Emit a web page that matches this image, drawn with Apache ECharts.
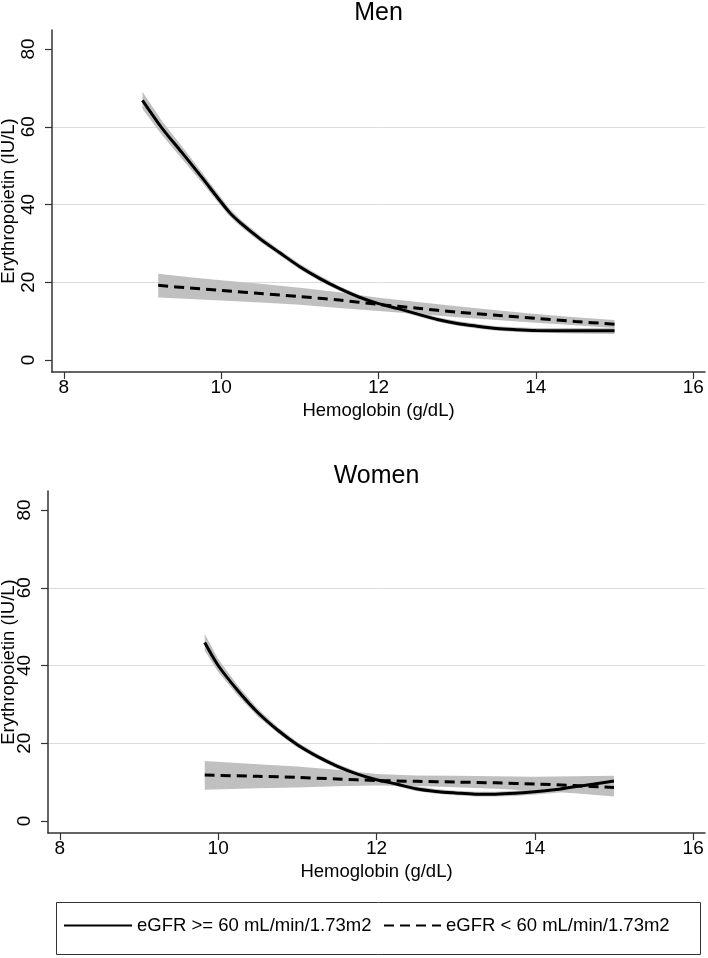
<!DOCTYPE html>
<html><head><meta charset="utf-8">
<script src="https://cdn.jsdelivr.net/npm/echarts@6/dist/echarts.min.js"></script>
<style>html,body{margin:0;padding:0;background:#fff}#c{width:708px;height:958px}</style>
</head><body><div id="c"></div>
<script>
// ---------------- data ----------------
const nameHigh = 'eGFR >= 60 mL/min/1.73m2';
const nameLow = 'eGFR < 60 mL/min/1.73m2';
const panelTitles = ['Men', 'Women'];
const xAxisName = 'Hemoglobin (g/dL)';
const yAxisName = 'Erythropoietin (IU/L)';
const xTicks = [8, 10, 12, 14, 16];
const yTicks = [0, 20, 40, 60, 80];

// Men, eGFR >= 60
const menHighHb  = [9.0, 9.25, 9.5, 9.75, 10.1, 10.25, 10.5, 10.75, 11.0, 11.25, 11.5, 11.75, 12.0, 12.25, 12.5, 12.75, 13.0, 13.25, 13.5, 13.75, 14.0, 14.5, 15.0];
const menHighEpo = [66.8, 59.6, 53.4, 47.1, 38.1, 35.2, 31.1, 27.5, 24.0, 21.0, 18.4, 16.2, 14.5, 13.2, 11.8, 10.4, 9.4, 8.7, 8.1, 7.8, 7.6, 7.5, 7.5];
const menHighLo  = [64.6, 57.8, 51.8, 45.8, 37.1, 34.3, 30.3, 26.8, 23.3, 20.3, 17.8, 15.6, 13.9, 12.6, 11.2, 9.8, 8.8, 8.1, 7.5, 7.2, 7.0, 6.8, 6.7];
const menHighUp  = [69.0, 61.4, 55.0, 48.4, 39.1, 36.1, 31.9, 28.2, 24.7, 21.7, 19.0, 16.8, 15.1, 13.8, 12.4, 11.0, 10.0, 9.3, 8.7, 8.4, 8.2, 8.2, 8.3];

// Men, eGFR < 60
const menLowHb  = [9.2, 9.6, 10.0, 10.5, 11.0, 11.5, 12.0, 12.5, 13.0, 13.5, 14.0, 14.5, 15.0];
const menLowEpo = [19.2, 18.5, 17.9, 17.1, 16.3, 15.4, 14.3, 13.3, 12.3, 11.5, 10.7, 9.9, 9.2];
const menLowLo  = [16.1, 15.7, 15.3, 14.8, 14.2, 13.4, 12.6, 11.8, 11.0, 10.3, 9.6, 8.9, 8.2];
const menLowUp  = [22.2, 21.3, 20.5, 19.6, 18.6, 17.4, 16.0, 14.9, 13.8, 12.8, 11.8, 11.0, 10.3];

// Women, eGFR >= 60
const womenHighHb  = [9.83, 10.0, 10.25, 10.5, 10.75, 11.0, 11.25, 11.5, 11.75, 12.0, 12.25, 12.5, 12.75, 13.0, 13.25, 13.5, 13.75, 14.0, 14.25, 14.5, 14.75, 15.0];
const womenHighEpo = [45.9, 40.0, 33.5, 27.9, 23.4, 19.6, 16.6, 14.1, 12.1, 10.6, 9.5, 8.3, 7.6, 7.2, 6.9, 6.9, 7.1, 7.5, 8.0, 8.8, 9.5, 10.3];
const womenHighLo  = [43.8, 38.3, 32.2, 26.9, 22.6, 18.9, 16.0, 13.5, 11.5, 10.0, 8.9, 7.7, 7.0, 6.6, 6.3, 6.3, 6.4, 6.8, 7.2, 7.9, 8.5, 9.1];
const womenHighUp  = [48.1, 41.7, 34.8, 28.9, 24.2, 20.3, 17.2, 14.7, 12.7, 11.2, 10.1, 8.9, 8.2, 7.8, 7.5, 7.5, 7.8, 8.2, 8.8, 9.7, 10.5, 11.5];

// Women, eGFR < 60
const womenLowHb  = [9.83, 10.5, 11.0, 11.5, 12.0, 12.5, 13.0, 13.5, 14.0, 14.5, 15.0];
const womenLowEpo = [11.8, 11.5, 11.2, 10.8, 10.4, 10.2, 10.0, 9.8, 9.5, 9.1, 8.6];
const womenLowLo  = [8.0, 8.4, 8.6, 8.9, 9.1, 9.0, 8.7, 8.3, 7.8, 7.1, 6.3];
const womenLowUp  = [15.4, 14.6, 14.0, 13.2, 12.1, 11.7, 11.6, 11.5, 11.4, 11.5, 11.6];

// ---------------- chart ----------------
const FONT = '"Liberation Sans", Arial, Helvetica, sans-serif';
const BAND = '#c0c0c0';
const AXIS = '#333333';

function zip(xs, ys) { return xs.map((x, i) => [x, ys[i]]); }

function band(gi, xs, lo, up) {
  return {
    type: 'custom', xAxisIndex: gi, yAxisIndex: gi, silent: true, z: 1,
    data: xs.map((x, i) => [x, lo[i], up[i]]),
    encode: { x: 0, y: [1, 2] },
    renderItem: function (params, api) {
      if (params.dataIndex !== 0) return null;
      const pts = [];
      for (let i = 0; i < xs.length; i++) pts.push(api.coord([xs[i], up[i]]));
      for (let i = xs.length - 1; i >= 0; i--) pts.push(api.coord([xs[i], lo[i]]));
      return { type: 'polygon', shape: { points: pts }, style: { fill: BAND, stroke: null } };
    }
  };
}
function curve(gi, name, xs, ys, dashed) {
  return {
    type: 'line', name: name, xAxisIndex: gi, yAxisIndex: gi, symbol: 'none',
    smooth: 0.3, z: 3, data: zip(xs, ys),
    lineStyle: { color: '#000', width: 3, type: dashed ? [10, 6] : 'solid', cap: 'butt' },
    itemStyle: { color: '#000' }
  };
}

const grids = [
  { left: 52, top: 30, width: 653, height: 342, outerBoundsMode: 'none', containLabel: false },
  { left: 48, top: 491, width: 657, height: 342, outerBoundsMode: 'none', containLabel: false }
];
const yNameGaps = [34, 30];

const xAxes = grids.map((g, i) => ({
  type: 'value', gridIndex: i, min: 7.85, max: 16.15,
  name: xAxisName, nameLocation: 'middle', nameGap: 29, nameMoveOverlap: false,
  nameTextStyle: { fontFamily: FONT, fontSize: 18.5, color: '#000' },
  axisLine: { show: true, onZero: false, lineStyle: { color: AXIS, width: 1.5 } },
  axisTick: { show: true, length: 7, customValues: xTicks, lineStyle: { color: AXIS, width: 1.2 } },
  axisLabel: { customValues: xTicks, margin: 6, fontFamily: FONT, fontSize: 19, color: '#000' },
  splitLine: { show: false }
}));
const yAxes = grids.map((g, i) => ({
  type: 'value', gridIndex: i, min: -3.1, max: 84.9,
  name: yAxisName, nameLocation: 'middle', nameGap: yNameGaps[i], nameRotate: 90, nameMoveOverlap: false,
  nameTextStyle: { fontFamily: FONT, fontSize: 18.5, color: '#000' },
  axisLine: { show: true, onZero: false, lineStyle: { color: AXIS, width: 1.5 } },
  axisTick: { show: true, length: 7, customValues: yTicks, lineStyle: { color: AXIS, width: 1.2 } },
  axisLabel: { customValues: yTicks, rotate: 90, margin: 14, fontFamily: FONT, fontSize: 19, color: '#000' },
  splitLine: { show: true, showMinLine: false, showMaxLine: false, lineStyle: { color: '#dcdcdc', width: 1 } }
}));

const series = [].concat(
  band(0, menHighHb, menHighLo, menHighUp),
  band(0, menLowHb, menLowLo, menLowUp),
  band(1, womenHighHb, womenHighLo, womenHighUp),
  band(1, womenLowHb, womenLowLo, womenLowUp),
  [
    curve(0, nameHigh, menHighHb, menHighEpo, false),
    curve(0, nameLow, menLowHb, menLowEpo, true),
    curve(1, nameHigh, womenHighHb, womenHighEpo, false),
    curve(1, nameLow, womenLowHb, womenLowEpo, true)
  ]
);

const legendText = { fontFamily: FONT, fontSize: 18.5, color: '#000' };
const legendCommon = { top: 916, itemHeight: 14, padding: 0, textStyle: legendText, selectedMode: false, itemStyle: { opacity: 0 } };
const option = {
  animation: false,
  backgroundColor: '#fff',
  title: panelTitles.map((t, i) => ({
    text: t, left: grids[i].left + grids[i].width / 2, textAlign: 'center',
    top: i === 0 ? 1 : 464, padding: 0,
    textStyle: { fontFamily: FONT, fontSize: 25, fontWeight: 'normal', color: '#000' }
  })),
  grid: grids,
  xAxis: xAxes,
  yAxis: yAxes,
  legend: [
    Object.assign({ data: [nameHigh], left: 63, itemWidth: 68 }, legendCommon),
    Object.assign({ data: [nameLow], left: 383, itemWidth: 57 }, legendCommon)
  ],
  graphic: [{
    type: 'rect', left: 54, top: 900, silent: true,
    shape: { width: 644, height: 52 },
    style: { fill: 'none', stroke: '#333', lineWidth: 1 }
  }],
  series: series
};

const chart = echarts.init(document.getElementById('c'), null, { renderer: 'canvas' });
chart.setOption(option);
</script>
</body></html>
